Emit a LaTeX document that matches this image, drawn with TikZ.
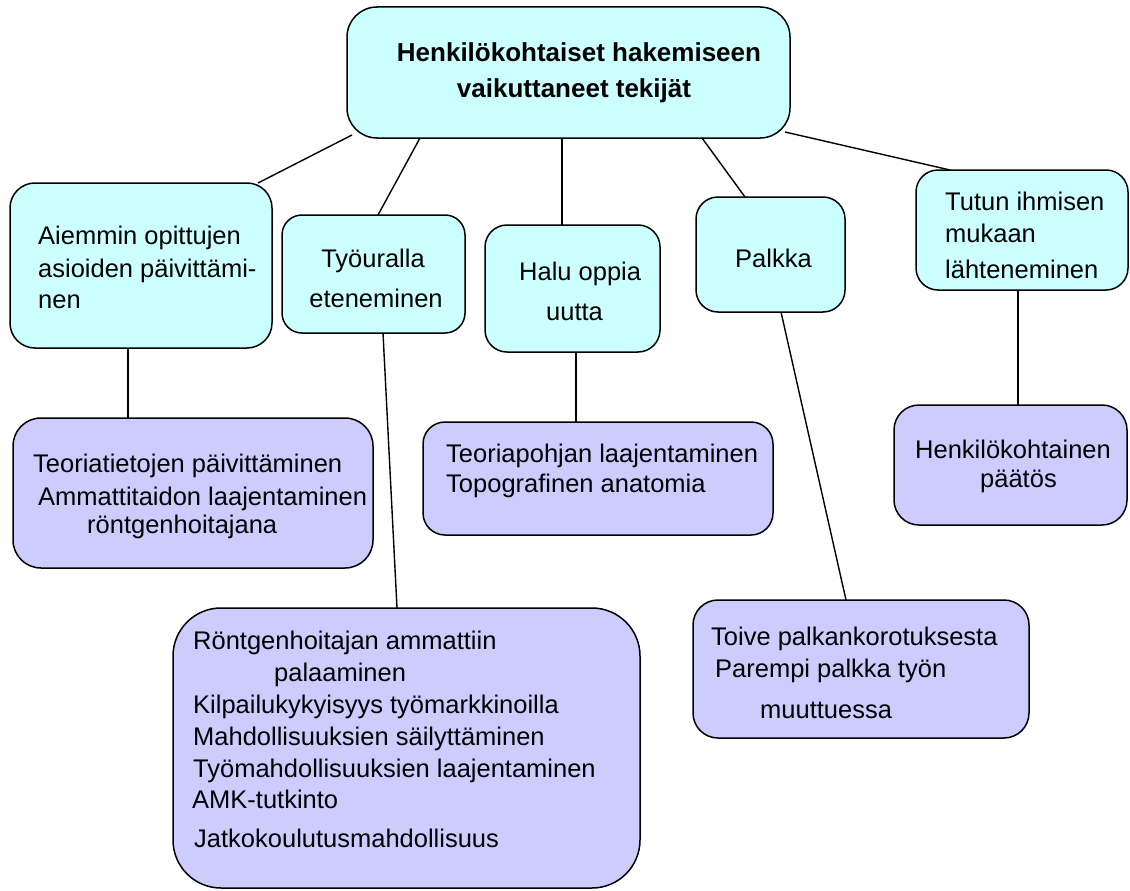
\documentclass[tikz,border=0pt]{standalone}
\usepackage{fontspec}
\setmainfont{Liberation Sans}
\definecolor{upc}{HTML}{CCFFFF}
\definecolor{loc}{HTML}{CCCCFF}
\tikzset{
  bx/.style={draw=black, line width=1.5pt, rectangle, inner sep=0pt, outer sep=0pt},
  upper/.style={bx, fill=upc},
  lower/.style={bx, fill=loc},
  txt/.style={anchor=base west, inner sep=0pt, font=\fontsize{25.5}{30}\selectfont},
  ctxt/.style={anchor=base, inner sep=0pt, font=\fontsize{25.5}{30}\selectfont},
  ttl/.style={anchor=base, inner sep=0pt, font=\fontsize{26}{30}\selectfont\bfseries},
  conn/.style={draw=black, line width=1.4pt}
}
\begin{document}
\begin{tikzpicture}[x=1pt, y=-1pt]
\useasboundingbox (0,0) rectangle (1130,891);
% boxes
\node[upper, rounded corners=30pt, minimum width=443pt, minimum height=131pt] (top) at (568.5,72.5) {};
\node[upper, rounded corners=25pt, minimum width=262pt, minimum height=165pt] (A) at (141,265.5) {};
\node[upper, rounded corners=20pt, minimum width=183pt, minimum height=118pt] (T) at (373.5,274) {};
\node[upper, rounded corners=22pt, minimum width=175pt, minimum height=127pt] (H) at (572.5,288.5) {};
\node[upper, rounded corners=22pt, minimum width=149pt, minimum height=115pt] (P) at (770.5,254.5) {};
\node[upper, rounded corners=22pt, minimum width=212pt, minimum height=120pt] (Tu) at (1022,230) {};
\node[lower, rounded corners=28pt, minimum width=360pt, minimum height=150pt] (TT) at (193,493) {};
\node[lower, rounded corners=48pt, minimum width=467pt, minimum height=280pt] (R) at (406.5,748) {};
\node[lower, rounded corners=22pt, minimum width=350pt, minimum height=113pt] (TP) at (598,478.5) {};
\node[lower, rounded corners=25pt, minimum width=336pt, minimum height=138pt] (TO) at (861,669) {};
\node[lower, rounded corners=25pt, minimum width=233pt, minimum height=120pt] (HK) at (1010.5,465) {};
% connectors
\draw[conn] ([xshift=5pt,yshift=3pt]top.south west) -- ([xshift=-14pt]A.north east);
\draw[conn] ([xshift=73pt]top.south west) -- ([xshift=4.5pt]T.north);
\draw[conn] ([xshift=-6.5pt]top.south) -- ([xshift=-10.5pt]H.north);
\draw[conn] ([xshift=133.5pt]top.south) -- ([xshift=-25.5pt]P.north);
\draw[conn] ([xshift=-5pt,yshift=6pt]top.south east) -- ([xshift=34pt]Tu.north west);
\draw[conn] ([xshift=-13pt]A.south) -- ([xshift=-65pt]TT.north);
\draw[conn] ([xshift=9.5pt]T.south) -- ([xshift=-9.5pt]R.north);
\draw[conn] ([xshift=3.5pt]H.south) -- ([xshift=-22pt]TP.north);
\draw[conn] ([xshift=10.5pt]P.south) -- ([xshift=-15pt]TO.north);
\draw[conn] ([xshift=-4pt]Tu.south) -- ([xshift=7.5pt]HK.north);
% texts
\node[ttl] (t1) at (579,62) {Henkilökohtaiset hakemiseen};
\node[ttl] (t2) at (574,97) {vaikuttaneet tekijät};
\node[txt] (a1) at (38,244) {Aiemmin opittujen};
\node[txt] (a2) at (38,277) {asioiden päivittämi-};
\node[txt] (a3) at (38,308) {nen};
\node[ctxt] (ty1) at (373,267) {Työuralla};
\node[ctxt] (ty2) at (376,307) {eteneminen};
\node[txt] (h1) at (519,280) {Halu oppia};
\node[txt] (h2) at (546,320) {uutta};
\node[txt] (p1) at (735,267) {Palkka};
\node[txt] (tu1) at (945,210) {Tutun ihmisen};
\node[txt] (tu2) at (945,242) {mukaan};
\node[txt] (tu3) at (945,278) {lähteneminen};
\node[txt] (tt1) at (33,472) {Teoriatietojen päivittäminen};
\node[txt] (tt2) at (38,505) {Ammattitaidon laajentaminen};
\node[txt] (tt3) at (87,533) {röntgenhoitajana};
\node[txt] (r1) at (193,649) {Röntgenhoitajan ammattiin};
\node[txt] (r2) at (274,681) {palaaminen};
\node[txt] (r3) at (193,713) {Kilpailukykyisyys työmarkkinoilla};
\node[txt] (r4) at (193,745) {Mahdollisuuksien säilyttäminen};
\node[txt] (r5) at (193,777) {Työmahdollisuuksien laajentaminen};
\node[txt] (r6) at (192,808) {AMK-tutkinto};
\node[txt] (r7) at (194,847) {Jatkokoulutusmahdollisuus};
\node[txt] (tp1) at (446,462) {Teoriapohjan laajentaminen};
\node[txt] (tp2) at (446,492) {Topografinen anatomia};
\node[txt] (to1) at (711,645) {Toive palkankorotuksesta};
\node[txt] (to2) at (715,677) {Parempi palkka työn};
\node[txt] (to3) at (760,718) {muuttuessa};
\node[txt] (hk1) at (915,458) {Henkilökohtainen};
\node[txt] (hk2) at (980,487) {päätös};
\end{tikzpicture}
\end{document}
